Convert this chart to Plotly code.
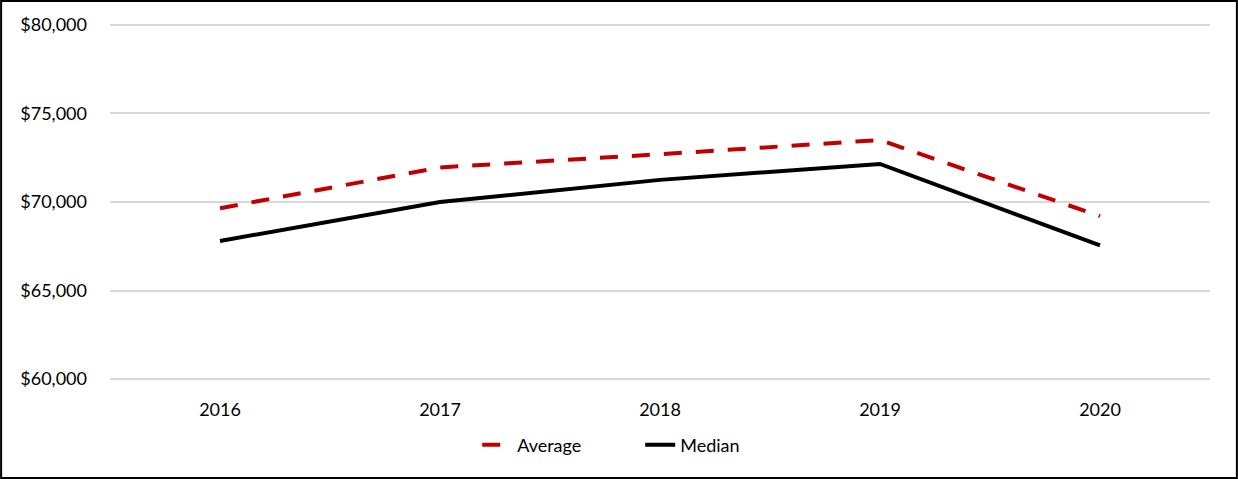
import plotly.graph_objects as go

years = ["2016", "2017", "2018", "2019", "2020"]
average = [69650, 71950, 72700, 73500, 69200]
median = [67800, 70000, 71250, 72150, 67550]

W, H = 1238, 479
ml, mr, mt, mb = 110, 28, 23, 98
pw, ph = W - ml - mr, H - mt - mb

fig = go.Figure()
fig.add_trace(go.Scatter(x=years, y=average, name="Average", mode="lines",
                         line=dict(color="#c00000", width=4, dash="18px,14px")))
fig.add_trace(go.Scatter(x=years, y=median, name="Median", mode="lines",
                         line=dict(color="#000000", width=4)))

fig.update_layout(
    width=W, height=H,
    margin=dict(l=ml, r=mr, t=mt, b=mb),
    paper_bgcolor="white", plot_bgcolor="white",
    font=dict(family="Lato, Open Sans, sans-serif", size=18, color="#000000"),
    showlegend=True,
    legend=dict(orientation="h", x=0.482, xanchor="center", y=-64 / ph, yanchor="middle",
                font=dict(size=18), entrywidth=118),
    xaxis=dict(type="category", range=[-0.5, 4.5], showgrid=False, showline=False,
               ticks="", zeroline=False, ticklabelstandoff=16),
    yaxis=dict(range=[59890, 80110], tickvals=[60000, 65000, 70000, 75000, 80000],
               tickformat="$,.0f", showgrid=True, gridcolor="#d9d9d9", gridwidth=1.5,
               zeroline=False, showline=False, ticks="", ticklabelstandoff=22),
    shapes=[dict(type="rect", xref="paper", yref="paper",
                 x0=-ml / pw + 0.001, x1=1 + mr / pw - 0.001,
                 y0=-mb / ph + 0.003, y1=1 + mt / ph - 0.003,
                 line=dict(color="black", width=2), fillcolor="rgba(0,0,0,0)")],
)

fig.write_html("out.html", config={"displayModeBar": False},
               post_script="document.body.style.margin='0px';document.body.style.overflow='hidden';")
